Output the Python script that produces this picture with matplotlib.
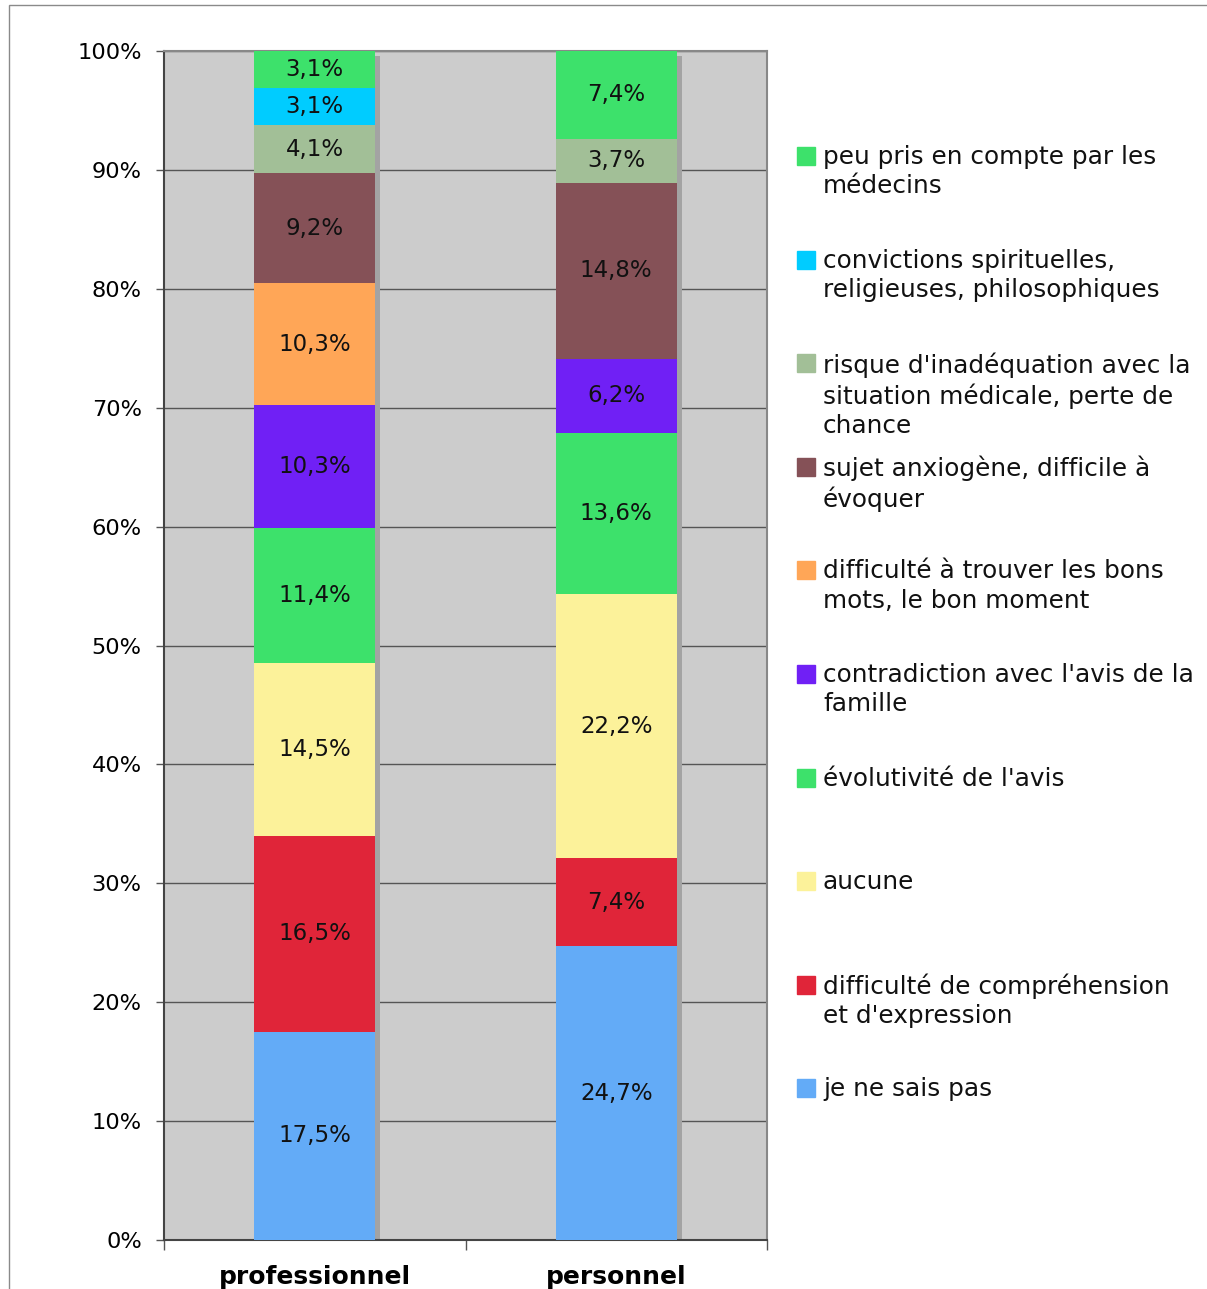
import matplotlib
matplotlib.use("Agg")
import matplotlib.pyplot as plt
from matplotlib.patches import Rectangle
import numpy as np

# categories, stacked from bottom to top
categories = ["professionnel", "personnel"]
labels = [
    "je ne sais pas",
    "difficulté de compréhension\net d'expression",
    "aucune",
    "évolutivité de l'avis",
    "contradiction avec l'avis de la\nfamille",
    "difficulté à trouver les bons\nmots, le bon moment",
    "sujet anxiogène, difficile à\névoquer",
    "risque d'inadéquation avec la\nsituation médicale, perte de\nchance",
    "convictions spirituelles,\nreligieuses, philosophiques",
    "peu pris en compte par les\nmédecins",
]
professionnel = [17.5, 16.5, 14.5, 11.4, 10.3, 10.3, 9.2, 4.1, 3.1, 3.1]
personnel = [24.7, 7.4, 22.2, 13.6, 6.2, 0.0, 14.8, 3.7, 0.0, 7.4]
colors = ["#63ABF7", "#E02539", "#FCF29A", "#3DE16B", "#7020F5",
          "#FFA657", "#855157", "#A2BF97", "#00CCFF", "#3DE16B"]

values = np.array([professionnel, personnel])

W, H = 1207, 1289
fig = plt.figure(figsize=(W / 100, H / 100), dpi=100)
fig.patches.append(Rectangle((9 / W, -0.1), 1.2, 1 - 5 / H + 0.1, transform=fig.transFigure,
                             fill=False, edgecolor="#8a8a8a", linewidth=1.0))

ax = fig.add_axes([164 / W, 1 - 1240 / H, (767 - 164) / W, (1240 - 51) / H])
ax.set_facecolor("#CCCCCC")
ax.set_xlim(-0.5, 1.5)
ax.set_ylim(0, 100)

x = np.arange(len(categories))
bw = 0.4
# shadow behind the bars
sx = 5 / 301.5
sy = 5 / 11.89
ax.bar(x + sx, values.sum(axis=1) - sy, width=bw, color="#A3A3A3", zorder=2)

bottom = np.zeros(len(categories))
for i in range(len(labels)):
    v = values[:, i]
    ax.bar(x, v, width=bw, bottom=bottom, color=colors[i], zorder=3)
    for j in range(len(categories)):
        if v[j] > 0:
            ax.text(x[j], bottom[j] + v[j] / 2, f"{v[j]:.1f}%".replace(".", ","),
                    ha="center", va="center", fontsize=16.5, color="#111111", zorder=4)
    bottom += v

ax.set_yticks(np.arange(0, 101, 10))
ax.set_yticklabels([f"{t}%" for t in range(0, 101, 10)], fontsize=16.2)
ax.yaxis.grid(True, color="#555555", linewidth=1.0, zorder=1)
ax.set_axisbelow(True)
ax.tick_params(axis="y", direction="out", length=6, width=1, color="#555555", pad=10)

ax.set_xticks([-0.5, 0.5, 1.5])
ax.set_xticklabels(["", "", ""])
ax.set_xticks(x, minor=True)
ax.set_xticklabels(categories, minor=True, fontsize=18, fontweight="bold")
ax.tick_params(axis="x", which="major", direction="out", length=7, width=1, color="#555555")
ax.tick_params(axis="x", which="minor", length=0, pad=18)

for s in ["left", "bottom"]:
    ax.spines[s].set_color("#444444")
    ax.spines[s].set_linewidth(1.5)
for s in ["top", "right"]:
    ax.spines[s].set_color("#888888")
    ax.spines[s].set_linewidth(1.5)

# legend, top entry first
y0 = 156
step = 103.6
for k, i in enumerate(range(len(labels) - 1, -1, -1)):
    yc = y0 + k * step
    fig.patches.append(Rectangle((797 / W, 1 - (yc + 9) / H), 18 / W, 18 / H,
                                 transform=fig.transFigure, color=colors[i]))
    fig.text(823 / W, 1 - (yc - 11) / H, labels[i], ha="left", va="top",
             fontsize=17.8, linespacing=1.27, color="#111111")

fig.savefig("out.png", dpi=100)
